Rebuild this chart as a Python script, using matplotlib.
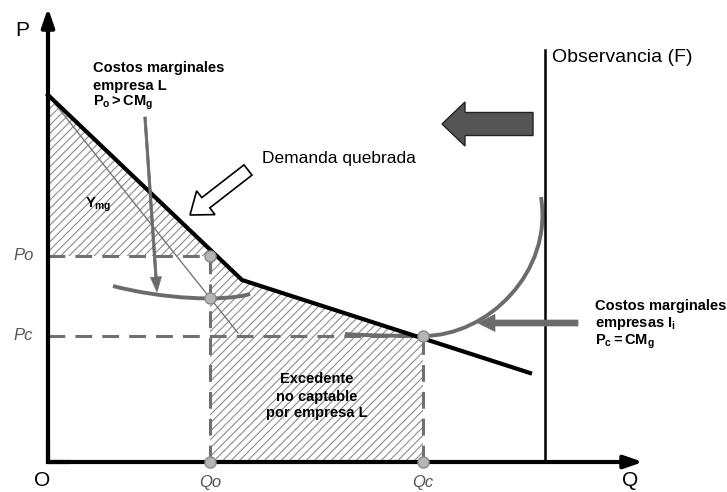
import numpy as np
import matplotlib
matplotlib.use('Agg')
import matplotlib.pyplot as plt
import matplotlib.patches as mpatches
from matplotlib.path import Path

plt.rcParams['font.family'] = ['Liberation Sans', 'DejaVu Sans']
plt.rcParams['mathtext.fontset'] = 'custom'
plt.rcParams['mathtext.rm'] = 'Liberation Sans'
plt.rcParams['mathtext.it'] = 'Liberation Sans:italic'
plt.rcParams['mathtext.bf'] = 'Liberation Sans:bold'
plt.rcParams['hatch.linewidth'] = 0.8

# curva de demanda quebrada (cantidad, precio)
demand_q = [0, 194, 482]
demand_p = [367, 182, 89]

# ingreso marginal del primer tramo (Y_mg)
ymg_q = [0, 190]
ymg_p = [367, 129]

# cantidades y precios de referencia
Qo = 162
Qc = 375
Po = 206
Pc = 126
observancia_q = 497

# puntos de control (Bezier) de los costos marginales
mcL_q = [65, 115, 175, 202]
mcL_p = [176, 163, 160, 168]
mcI_q = [297, 320, 350, 375, 440, 505, 493]
mcI_p = [128, 126.5, 126, 126, 126, 190, 265]

grey = '#6b6b6b'
dash_grey = '#707070'

mcL_Qo = np.interp(Qo, ymg_q, ymg_p)
dem_Qc = np.interp(Qc, demand_q, demand_p)

fig = plt.figure(figsize=(7.27, 4.92), dpi=100)
ax = fig.add_axes([0, 0, 1, 1])
ax.set_xlim(-48, 679)
ax.set_ylim(-30, 462)
ax.axis('off')

# area rayada
poly = [(0, Po), (0, demand_p[0]), (demand_q[1], demand_p[1]), (Qc, dem_Qc),
        (Qc, 0), (Qo, 0), (Qo, Po)]
ax.add_patch(mpatches.Polygon(poly, closed=True, facecolor='white',
                              edgecolor='#8c8c8c', lw=0, hatch='////', zorder=1))

# lineas punteadas
dash = dict(color=dash_grey, lw=2.2, dashes=(5.5, 3.3), zorder=2)
ax.plot([0, Qo], [Po, Po], **dash)
ax.plot([0, Qc], [Pc, Pc], **dash)
ax.plot([Qo, Qo], [0, Po], **dash)
ax.plot([Qc, Qc], [0, Pc], **dash)

# Y_mg
ax.plot(ymg_q, ymg_p, color='#777777', lw=1, zorder=2)

# costos marginales
C = Path.CURVE4
pathL = Path(list(zip(mcL_q, mcL_p)), [Path.MOVETO, C, C, C])
ax.add_patch(mpatches.PathPatch(pathL, fill=False, ec=grey, lw=2.8, capstyle='butt', zorder=3))
pathI = Path(list(zip(mcI_q, mcI_p)), [Path.MOVETO, C, C, C, C, C, C])
ax.add_patch(mpatches.PathPatch(pathI, fill=False, ec=grey, lw=2.8, capstyle='butt', zorder=3))

# demanda
ax.plot(demand_q, demand_p, color='black', lw=3, solid_joinstyle='miter', zorder=4)

# observancia
ax.plot([observancia_q, observancia_q], [0, 412], color='black', lw=1.8, zorder=4)

# ejes
axis_arrow = dict(arrowstyle='-|>,head_length=1.1,head_width=0.38', lw=3,
                  color='black', shrinkA=0, shrinkB=0, mutation_scale=10)
ax.annotate('', xy=(0, 454), xytext=(0, 0), arrowprops=axis_arrow, zorder=5)
ax.annotate('', xy=(595, 0), xytext=(0, 0), arrowprops=axis_arrow, zorder=5)
ax.plot([0, 0, 20], [20, 0, 0], color='black', lw=3, solid_joinstyle='miter', zorder=5)

# puntos
ax.plot([Qo, Qo, Qo, Qc, Qc], [Po, mcL_Qo, 0, Pc, 0], 'o', ms=8,
        mfc='#b5b5b5', mec='#8a8a8a', mew=1, zorder=7)

# flechas
ax.add_patch(mpatches.FancyArrow(485, 338, -91, 0, width=23, head_width=44,
                                 head_length=23, length_includes_head=True,
                                 fc='#555555', ec='#222222', lw=1, zorder=6))
ax.add_patch(mpatches.FancyArrow(200, 292, -58, -45, width=13, head_width=30,
                                 head_length=20, length_includes_head=True,
                                 fc='white', ec='black', lw=1.2, zorder=6))
ax.add_patch(mpatches.FancyArrow(97, 345, 12, -175, width=2.5, head_width=11,
                                 head_length=15, length_includes_head=True,
                                 fc=grey, ec=grey, lw=0.5, zorder=6))
ax.add_patch(mpatches.FancyArrow(530, 139, -100, 0, width=6, head_width=17,
                                 head_length=17, length_includes_head=True,
                                 fc=grey, ec=grey, lw=0.5, zorder=6))

# textos de ejes
ax.text(-26, 432, 'P', fontsize=15, ha='center', va='center')
ax.text(-6, -19, 'O', fontsize=15, ha='center', va='center')
ax.text(582, -18, 'Q', fontsize=15, ha='center', va='center')
ax.text(-35, Po, 'Po', fontsize=12, style='italic', color='#555555', ha='left', va='center')
ax.text(-35, Pc, 'Pc', fontsize=12, style='italic', color='#555555', ha='left', va='center')
ax.text(Qo, -21, 'Qo', fontsize=12, style='italic', color='#555555', ha='center', va='center')
ax.text(Qc, -21, 'Qc', fontsize=12, style='italic', color='#555555', ha='center', va='center')

# anotaciones
ax.text(504, 404, 'Observancia (F)', fontsize=14, ha='left', va='center')
ax.text(214, 304, 'Demanda quebrada', fontsize=12.5, ha='left', va='center')

bold = dict(fontsize=10.5, fontweight='bold', va='center')
ax.text(45, 394, 'Costos marginales', ha='left', **bold)
ax.text(45, 376, 'empresa L', ha='left', **bold)
ax.text(45, 359, r'$\mathbf{P_o > CM_g}$', ha='left', **bold)

ax.text(547, 156, 'Costos marginales', ha='left', **bold)
ax.text(547, 138, r'empresas $\mathbf{I_i}$', ha='left', **bold)
ax.text(547, 120, r'$\mathbf{P_c = CM_g}$', ha='left', **bold)

ax.text(269, 83, 'Excedente', ha='center', **bold)
ax.text(269, 65, 'no captable', ha='center', **bold)
ax.text(269, 49, 'por empresa L', ha='center', **bold)

ax.text(37, 257, r'$\mathbf{Y_{mg}}$', ha='left', **bold)

fig.savefig('out.png', dpi=100, facecolor='white')
